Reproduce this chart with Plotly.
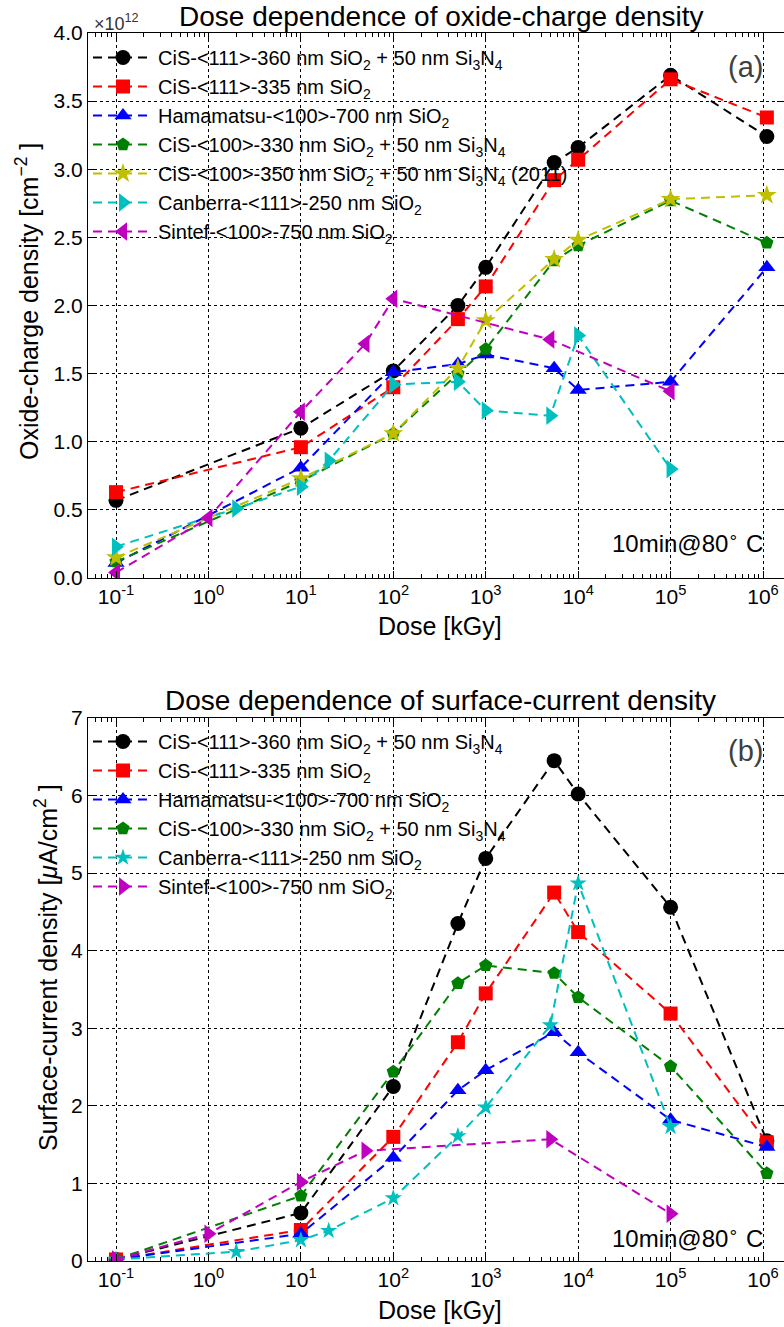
import plotly.graph_objects as go

# ---------------- data: (a) oxide-charge density [1e12 cm^-2] ----------------
dose_a_cis111_nit = [0.1, 10, 100, 500, 1000, 5500, 1e4, 1e5, 1.1e6]
ox_cis111_nit = [0.57, 1.10, 1.52, 2.00, 2.28, 3.05, 3.16, 3.69, 3.24]
dose_a_cis111_ox = [0.1, 10, 100, 500, 1000, 5500, 1e4, 1e5, 1.1e6]
ox_cis111_ox = [0.63, 0.96, 1.40, 1.90, 2.14, 2.92, 3.07, 3.66, 3.38]
dose_a_ham = [0.1, 10, 100, 500, 1000, 5500, 1e4, 1e5, 1.1e6]
ox_ham = [0.11, 0.81, 1.51, 1.57, 1.64, 1.54, 1.38, 1.44, 2.28]
dose_a_cis100 = [0.1, 10, 100, 500, 1000, 5500, 1e4, 1e5, 1.1e6]
ox_cis100 = [0.12, 0.71, 1.06, 1.50, 1.68, 2.33, 2.44, 2.77, 2.46]
dose_a_cis100_2011 = [0.1, 10, 100, 500, 1000, 5500, 1e4, 1e5, 1.1e6]
ox_cis100_2011 = [0.15, 0.73, 1.06, 1.54, 1.89, 2.34, 2.48, 2.78, 2.81]
dose_a_can = [0.1, 2, 10, 20, 100, 500, 1000, 5000, 1e4, 1e5]
ox_can = [0.23, 0.51, 0.67, 0.86, 1.42, 1.44, 1.23, 1.19, 1.78, 0.80]
dose_a_sin = [0.1, 1, 10, 50, 100, 5000, 1e5]
ox_sin = [0.04, 0.44, 1.22, 1.72, 2.05, 1.75, 1.37]

# ---------------- data: (b) surface-current density [uA/cm^2] ----------------
dose_b_cis111_nit = [0.1, 10, 100, 500, 1000, 5500, 1e4, 1e5, 1.1e6]
js_cis111_nit = [0.02, 0.62, 2.25, 4.35, 5.19, 6.45, 6.02, 4.56, 1.55]
dose_b_cis111_ox = [0.1, 10, 100, 500, 1000, 5500, 1e4, 1e5, 1.1e6]
js_cis111_ox = [0.02, 0.40, 1.60, 2.82, 3.45, 4.75, 4.24, 3.19, 1.53]
dose_b_ham = [0.1, 10, 100, 500, 1000, 5500, 1e4, 1e5, 1.1e6]
js_ham = [0.02, 0.35, 1.33, 2.20, 2.46, 2.95, 2.69, 1.82, 1.47]
dose_b_cis100 = [0.1, 10, 100, 500, 1000, 5500, 1e4, 1e5, 1.1e6]
js_cis100 = [0.02, 0.84, 2.44, 3.58, 3.81, 3.71, 3.40, 2.51, 1.13]
dose_b_can = [0.1, 2, 10, 20, 100, 500, 1000, 5000, 1e4, 1e5]
js_can = [0.02, 0.12, 0.27, 0.39, 0.81, 1.61, 1.98, 3.04, 4.87, 1.73]
dose_b_sin = [0.1, 1, 10, 50, 5000, 1e5]
js_sin = [0.02, 0.35, 1.02, 1.42, 1.57, 0.61]

names_a = [
    "CiS-&lt;111&gt;-360 nm SiO<sub>2</sub> + 50 nm Si<sub>3</sub>N<sub>4</sub>",
    "CiS-&lt;111&gt;-335 nm SiO<sub>2</sub>",
    "Hamamatsu-&lt;100&gt;-700 nm SiO<sub>2</sub>",
    "CiS-&lt;100&gt;-330 nm SiO<sub>2</sub> + 50 nm Si<sub>3</sub>N<sub>4</sub>",
    "CiS-&lt;100&gt;-350 nm SiO<sub>2</sub> + 50 nm Si<sub>3</sub>N<sub>4</sub> (2011)",
    "Canberra-&lt;111&gt;-250 nm SiO<sub>2</sub>",
    "Sintef-&lt;100&gt;-750 nm SiO<sub>2</sub>",
]
names_b = [names_a[0], names_a[1], names_a[2], names_a[3], names_a[5], names_a[6]]

tick_vals = [0.1, 1, 10, 100, 1e3, 1e4, 1e5, 1e6]
tick_text = ["10<sup>-1</sup>", "10<sup>0</sup>", "10<sup>1</sup>", "10<sup>2</sup>",
             "10<sup>3</sup>", "10<sup>4</sup>", "10<sup>5</sup>", "10<sup>6</sup>"]

BLACK, RED, BLUE = "#000000", "#ff0000", "#0000ff"
GREEN, YELLOW, CYAN, MAGENTA = "#008000", "#bfbf00", "#00bfbf", "#bf00bf"
FONT = "Liberation Sans, Arial, Helvetica, sans-serif"

series_a = [
    (dose_a_cis111_nit, ox_cis111_nit, BLACK, "circle", 15),
    (dose_a_cis111_ox, ox_cis111_ox, RED, "square", 14),
    (dose_a_ham, ox_ham, BLUE, "triangle-up", 15),
    (dose_a_cis100, ox_cis100, GREEN, "pentagon", 14),
    (dose_a_cis100_2011, ox_cis100_2011, YELLOW, "star", 15),
    (dose_a_can, ox_can, CYAN, "triangle-right", 16),
    (dose_a_sin, ox_sin, MAGENTA, "triangle-left", 16),
]
series_b = [
    (dose_b_cis111_nit, js_cis111_nit, BLACK, "circle", 15),
    (dose_b_cis111_ox, js_cis111_ox, RED, "square", 14),
    (dose_b_ham, js_ham, BLUE, "triangle-up", 15),
    (dose_b_cis100, js_cis100, GREEN, "pentagon", 14),
    (dose_b_can, js_can, CYAN, "star", 13),
    (dose_b_sin, js_sin, MAGENTA, "triangle-right", 16),
]

fig = go.Figure()
for (x, y, c, sym, sz), nm in zip(series_a, names_a):
    fig.add_trace(go.Scatter(
        x=x, y=y, name=nm, mode="lines+markers", xaxis="x", yaxis="y",
        line=dict(color=c, width=2, dash="9px,6px"),
        marker=dict(color=c, symbol=sym, size=sz, line=dict(width=0)),
        legend="legend"))
for (x, y, c, sym, sz), nm in zip(series_b, names_b):
    fig.add_trace(go.Scatter(
        x=x, y=y, name=nm, mode="lines+markers", xaxis="x2", yaxis="y2",
        line=dict(color=c, width=2, dash="9px,6px"),
        marker=dict(color=c, symbol=sym, size=sz, line=dict(width=0)),
        legend="legend2"))

minor_vals = [m * 10 ** e for e in range(-2, 7) for m in range(2, 10)]

def xaxis(anchor):
    return dict(
        type="log", range=[-1.303, 6.227], anchor=anchor,
        tickmode="array", tickvals=tick_vals, ticktext=tick_text,
        ticks="inside", ticklen=7, tickcolor="black", tickwidth=1,
        minor=dict(tickmode="array", tickvals=minor_vals, ticks="inside",
                   ticklen=4, tickcolor="black", showgrid=False),
        showline=True, linecolor="black", linewidth=1, mirror="allticks",
        showgrid=True, gridcolor="black", griddash="dot", gridwidth=1,
        zeroline=False, tickfont=dict(size=21, color="black", family=FONT),
    )

def yaxis(anchor, domain, rng, dtick, fmt):
    return dict(
        domain=domain, range=rng, anchor=anchor, dtick=dtick, tick0=0, tickformat=fmt,
        ticks="inside", ticklen=7, tickcolor="black",
        showline=True, linecolor="black", linewidth=1, mirror="ticks",
        showgrid=True, gridcolor="black", griddash="dot", gridwidth=1,
        zeroline=False, tickfont=dict(size=21, color="black", family=FONT),
    )

L, T, B, W, H = 88, 33, 66, 784, 1327
pw, ph = W - L, H - T - B

def px(xp):
    return (xp - L) / pw

def py(yp):
    return (H - B - yp) / ph

top_dom = [py(578), 1.0]
bot_dom = [0.0, py(718)]

LEG_FONT = 20
fig.update_layout(
    width=W, height=H,
    margin=dict(l=L, r=0, t=T, b=B),
    paper_bgcolor="white", plot_bgcolor="white",
    font=dict(family=FONT, color="black"),
    xaxis=xaxis("y"), yaxis=yaxis("x", top_dom, [0, 4], 0.5, ".1f"),
    xaxis2=xaxis("y2"), yaxis2=yaxis("x2", bot_dom, [0, 7], 1, "d"),
    legend=dict(x=px(88), y=py(38), xanchor="left", yanchor="top",
                bgcolor="rgba(0,0,0,0)", font=dict(size=LEG_FONT, family=FONT),
                tracegroupgap=0, itemwidth=60),
    legend2=dict(x=px(88), y=py(722), xanchor="left", yanchor="top",
                 bgcolor="rgba(0,0,0,0)", font=dict(size=LEG_FONT, family=FONT),
                 tracegroupgap=0, itemwidth=60),
    showlegend=True,
)

ann = [
    dict(text="Dose dependence of oxide-charge density", x=px(441), y=py(16), size=28),
    dict(text="Dose dependence of surface-current density", x=px(440), y=py(700), size=28),
    dict(text="Dose [kGy]", x=px(440), y=py(626), size=25),
    dict(text="Dose [kGy]", x=px(440), y=py(1310), size=25),
    dict(text="Oxide-charge density [cm<sup>−2</sup> ]", x=px(27), y=py(302), size=25, angle=-90),
    dict(text="Surface-current density [<i>μ</i>A/cm<sup>2</sup> ]", x=px(46), y=py(968), size=25, angle=-90),
]
for a in ann:
    fig.add_annotation(text=a["text"], x=a["x"], y=a["y"], xref="paper", yref="paper",
                       showarrow=False, xanchor="center", yanchor="middle",
                       textangle=a.get("angle", 0),
                       font=dict(size=a["size"], color="black", family=FONT))

ann_r = [
    dict(text="(a)", y=py(67), size=29, color="#404040"),
    dict(text="(b)", y=py(751), size=29, color="#404040"),
    dict(text="10min@80<sup>∘</sup> C", y=py(542), size=24, color="black"),
    dict(text="10min@80<sup>∘</sup> C", y=py(1237), size=24, color="black"),
]
for a in ann_r:
    fig.add_annotation(text=a["text"], x=px(765), y=a["y"], xref="paper", yref="paper",
                       showarrow=False, xanchor="right", yanchor="middle",
                       font=dict(size=a["size"], color=a["color"], family=FONT))

fig.add_annotation(text="×10<sup>12</sup>", x=px(92), y=py(22), xref="paper", yref="paper",
                   showarrow=False, xanchor="left", yanchor="middle",
                   font=dict(size=18, color="#333333", family=FONT))

fig.write_html("out.html", config={"displayModeBar": False},
               post_script="document.body.style.margin='0';document.body.style.overflow='hidden';")
